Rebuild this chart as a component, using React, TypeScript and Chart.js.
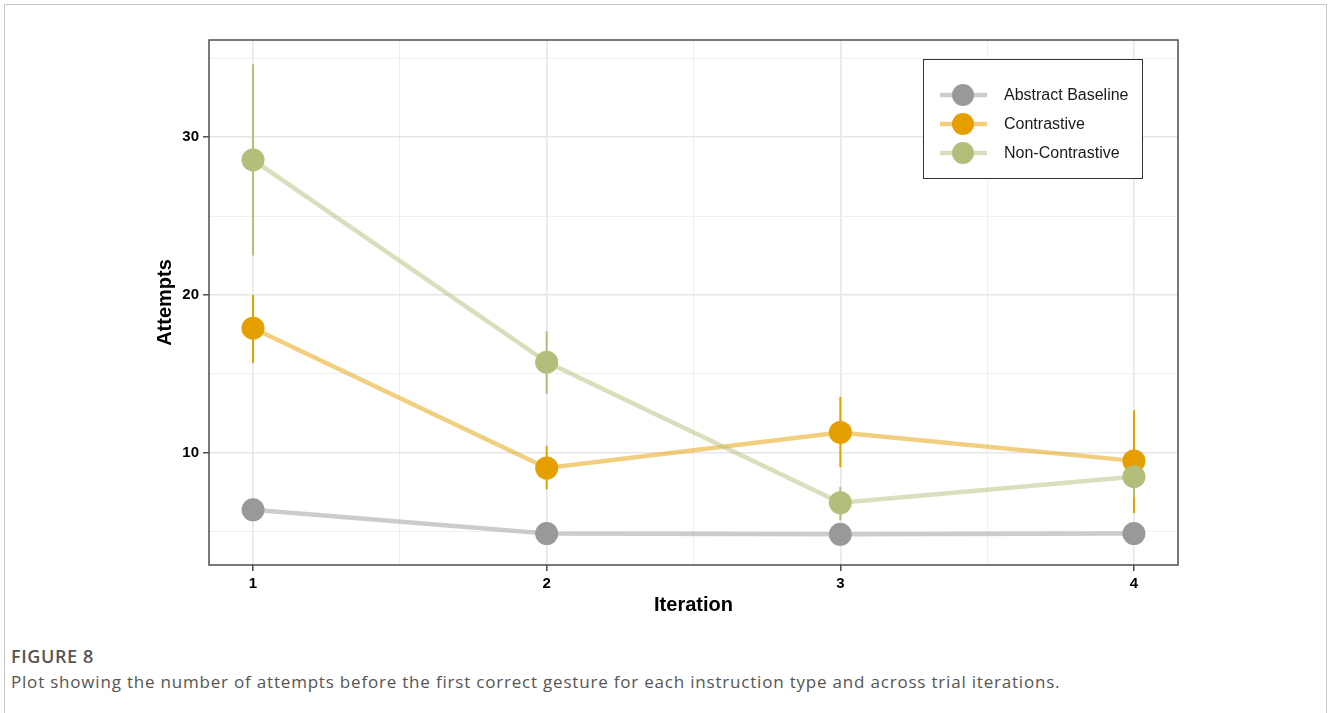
import { useEffect, useRef } from "react";
import { Chart, registerables } from "chart.js";

Chart.register(...registerables);

// Trial iterations (x) and the tick positions used for major/minor grid lines
const iterations = [1, 2, 3, 4];
const xTicks = [1, 1.5, 2, 2.5, 3, 3.5, 4];
const yTicks = [5, 10, 15, 20, 25, 30, 35];

const seriesNames = ["Abstract Baseline", "Contrastive", "Non-Contrastive"];

// Mean attempts before the first correct gesture, with error-bar bounds
const abstractMean = [6.4, 4.9, 4.85, 4.9];
const abstractLow = [6.1, 4.7, 4.65, 4.7];
const abstractHigh = [6.7, 5.1, 5.05, 5.1];

const contrastiveMean = [17.9, 9.05, 11.3, 9.5];
const contrastiveLow = [15.7, 7.7, 9.1, 6.2];
const contrastiveHigh = [20.0, 10.45, 13.55, 12.7];

const nonContrastiveMean = [28.55, 15.75, 6.85, 8.5];
const nonContrastiveLow = [22.5, 13.75, 5.75, 7.2];
const nonContrastiveHigh = [34.6, 17.7, 7.85, 9.8];

const seriesColors = ["#999999", "#E69F00", "#B5BD7A"];
const lineColors = ["rgba(153,153,153,0.5)", "rgba(230,159,0,0.5)", "rgba(181,189,122,0.5)"];

const means = [abstractMean, contrastiveMean, nonContrastiveMean];
const lows = [abstractLow, contrastiveLow, nonContrastiveLow];
const highs = [abstractHigh, contrastiveHigh, nonContrastiveHigh];

const SANS = '"Liberation Sans", Arial, Helvetica, sans-serif';

const errorBars = {
  id: "errorBars",
  beforeDatasetsDraw(chart: any) {
    const { ctx, scales } = chart;
    const x = scales.x;
    const y = scales.y;
    ctx.save();
    ctx.lineWidth = 2;
    for (let s = 0; s < seriesNames.length; s++) {
      ctx.strokeStyle = seriesColors[s];
      iterations.forEach((it, i) => {
        const px = x.getPixelForValue(it);
        ctx.beginPath();
        ctx.moveTo(px, y.getPixelForValue(lows[s][i]));
        ctx.lineTo(px, y.getPixelForValue(highs[s][i]));
        ctx.stroke();
      });
    }
    ctx.restore();
  },
};

const panelBorder = {
  id: "panelBorder",
  afterDatasetsDraw(chart: any) {
    const { ctx, chartArea } = chart;
    ctx.save();
    ctx.strokeStyle = "#4d4d4d";
    ctx.lineWidth = 1.5;
    ctx.strokeRect(chartArea.left, chartArea.top, chartArea.right - chartArea.left, chartArea.bottom - chartArea.top);
    ctx.restore();
  },
};

const legendBox = {
  id: "legendBox",
  afterDraw(chart: any) {
    const { ctx } = chart;
    const bx = 923.5;
    const by = 59.5;
    const bw = 219;
    const bh = 119;
    ctx.save();
    ctx.fillStyle = "#ffffff";
    ctx.fillRect(bx, by, bw, bh);
    ctx.strokeStyle = "#333333";
    ctx.lineWidth = 1;
    ctx.strokeRect(bx, by, bw, bh);
    seriesNames.forEach((name, i) => {
      const cy = 95 + i * 29;
      ctx.strokeStyle = lineColors[i];
      ctx.lineWidth = 4.5;
      ctx.beginPath();
      ctx.moveTo(940, cy);
      ctx.lineTo(987, cy);
      ctx.stroke();
      ctx.fillStyle = seriesColors[i];
      ctx.beginPath();
      ctx.arc(963, cy, 11, 0, Math.PI * 2);
      ctx.fill();
      ctx.fillStyle = "#1a1a1a";
      ctx.font = `16px ${SANS}`;
      ctx.textBaseline = "middle";
      ctx.textAlign = "left";
      ctx.fillText(name, 1004, cy + 1);
    });
    ctx.restore();
  },
};

export default function App() {
  const canvasRef = useRef<HTMLCanvasElement | null>(null);

  useEffect(() => {
    if (!canvasRef.current) return;

    const lineSets = seriesNames.map((name, s) => ({
      label: name,
      data: iterations.map((it, i) => ({ x: it, y: means[s][i] })),
      borderColor: lineColors[s],
      borderWidth: 4.5,
      pointRadius: 0,
      showLine: true,
      fill: false,
      order: 5 - s,
    }));
    const pointSets = seriesNames.map((name, s) => ({
      label: name,
      data: iterations.map((it, i) => ({ x: it, y: means[s][i] })),
      backgroundColor: seriesColors[s],
      pointBackgroundColor: seriesColors[s],
      pointBorderWidth: 0,
      pointRadius: 11.5,
      showLine: false,
      order: 2 - s,
    }));

    const isMajorX = (v: number) => Math.abs(v % 1) < 1e-9;
    const isMajorY = (v: number) => Math.abs(v % 10) < 1e-9;

    const chart = new Chart(canvasRef.current, {
      type: "scatter",
      data: { datasets: [...lineSets, ...pointSets] as any },
      plugins: [errorBars, panelBorder, legendBox],
      options: {
        animation: false,
        responsive: false,
        devicePixelRatio: 1,
        events: [],
        layout: { padding: { left: 150, right: 150, top: 40, bottom: 23 } },
        plugins: { legend: { display: false }, tooltip: { enabled: false } },
        scales: {
          x: {
            type: "linear",
            min: 0.85,
            max: 4.15,
            afterBuildTicks: (scale: any) => {
              scale.ticks = xTicks.map((v) => ({ value: v }));
            },
            afterFit: (scale: any) => {
              scale.height = 52;
            },
            border: { display: false },
            grid: {
              color: (c: any) => (c.tick && isMajorX(c.tick.value) ? "#e6e6e6" : "#efefef"),
              lineWidth: (c: any) => (c.tick && isMajorX(c.tick.value) ? 1.6 : 1),
              tickColor: (c: any) => (c.tick && isMajorX(c.tick.value) ? "#333333" : "rgba(0,0,0,0)"),
              tickLength: 6,
              tickWidth: 1.3,
            },
            ticks: {
              autoSkip: false,
              maxRotation: 0,
              padding: 4,
              color: "#000000",
              font: { family: SANS, size: 15, weight: "bold" },
              callback: (v: any) => (isMajorX(Number(v)) ? String(v) : ""),
            },
            title: {
              display: true,
              text: "Iteration",
              color: "#000000",
              font: { family: SANS, size: 20, weight: "bold" },
              padding: { top: 0, bottom: 0 },
            },
          },
          y: {
            type: "linear",
            min: 2.91,
            max: 36.14,
            afterBuildTicks: (scale: any) => {
              scale.ticks = yTicks.map((v) => ({ value: v }));
            },
            afterFit: (scale: any) => {
              scale.width = 59;
            },
            border: { display: false },
            grid: {
              color: (c: any) => (c.tick && isMajorY(c.tick.value) ? "#e6e6e6" : "#efefef"),
              lineWidth: (c: any) => (c.tick && isMajorY(c.tick.value) ? 1.6 : 1),
              tickColor: (c: any) => (c.tick && isMajorY(c.tick.value) ? "#333333" : "rgba(0,0,0,0)"),
              tickLength: 6,
              tickWidth: 1.3,
            },
            ticks: {
              autoSkip: false,
              padding: 4,
              color: "#000000",
              font: { family: SANS, size: 15, weight: "bold" },
              callback: (v: any) => (isMajorY(Number(v)) ? String(v) : ""),
            },
            title: {
              display: true,
              text: "Attempts",
              color: "#000000",
              font: { family: SANS, size: 20, weight: "bold" },
              padding: { top: 3, bottom: 0 },
            },
          },
        },
      } as any,
    });

    return () => chart.destroy();
  }, []);

  return (
    <div style={{ position: "absolute", left: 0, top: 0, width: 1328, height: 713, overflow: "hidden", background: "#ffffff" }}>
      <div
        style={{
          position: "absolute",
          left: 4,
          top: 4,
          width: 1323,
          height: 740,
          border: "1.5px solid #c8c8c8",
          boxSizing: "border-box",
        }}
      />
      <canvas
        ref={canvasRef}
        width={1328}
        height={640}
        style={{ position: "absolute", left: 0, top: 0, width: 1328, height: 640 }}
      />
      <div
        style={{
          position: "absolute",
          left: 11,
          top: 644,
          fontFamily: '"Open Sans", sans-serif',
          fontSize: 18,
          fontWeight: 600,
          letterSpacing: 0.6,
          color: "#555555",
          lineHeight: "24px",
          whiteSpace: "nowrap",
        }}
      >
        FIGURE 8
      </div>
      <div
        style={{
          position: "absolute",
          left: 11,
          top: 670,
          fontFamily: '"Open Sans", sans-serif',
          fontSize: 17,
          letterSpacing: 0.8,
          color: "#555555",
          lineHeight: "24px",
          whiteSpace: "nowrap",
        }}
      >
        Plot showing the number of attempts before the first correct gesture for each instruction type and across trial iterations.
      </div>
    </div>
  );
}
